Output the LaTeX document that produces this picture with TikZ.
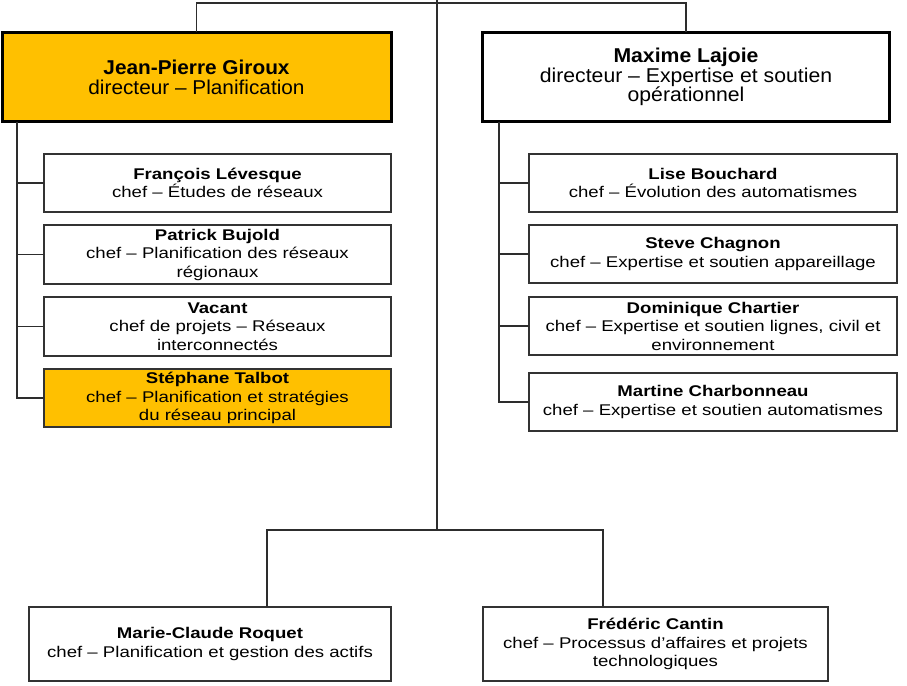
\documentclass[tikz,border=0pt]{standalone}
\usepackage{fontspec}
\setmainfont{Liberation Sans}
\newfontfamily\fJP{Liberation Sans}[FakeStretch=1.04]
\newfontfamily\fML{Liberation Sans}[FakeStretch=1.06]
\newfontfamily\fSm{Liberation Sans}[FakeStretch=1.2]
\newfontfamily\fBt{Liberation Sans}[FakeStretch=1.2]
\usetikzlibrary{calc}
\definecolor{gold}{RGB}{255,192,0}
\definecolor{linegray}{RGB}{45,45,45}
\tikzset{
  dirbox/.style={draw=black, line width=3pt, inner sep=0pt, outer sep=0pt, align=center, text=black},
  subbox/.style={draw=black!80, line width=1.3pt, inner sep=0pt, outer sep=0pt, align=center,
    minimum height=58pt, font=\fSm\fontsize{15.5}{18.5}\selectfont},
  leftbox/.style={subbox, minimum width=347pt},
  rightbox/.style={subbox, minimum width=368pt},
  botbox/.style={subbox, minimum height=74pt, font=\fBt\fontsize{15.5}{18.5}\selectfont},
  link/.style={draw=linegray, line width=1.1pt},
}
\begin{document}
\begin{tikzpicture}[x=1pt,y=-1pt]
\useasboundingbox (0,0) rectangle (907,685);
% directors
\node[dirbox, fill=gold, minimum width=389pt, minimum height=89pt,
  font=\fJP\fontsize{20}{20}\selectfont] (JP) at (196.5,77)
  {\textbf{Jean-Pierre Giroux}\\directeur – Planification};
\node[dirbox, fill=white, minimum width=407pt, minimum height=89pt,
  font=\fML\fontsize{20}{19.5}\selectfont] (ML) at (686,77)
  {\textbf{Maxime Lajoie}\\directeur – Expertise et soutien\\opérationnel};
% left column
\node[leftbox] (FL) at (217.5,183) {\textbf{François Lévesque}\\chef – Études de réseaux};
\node[leftbox, minimum height=59pt] (PB) at (217.5,254.5) {\textbf{Patrick Bujold}\\chef – Planification des réseaux\\régionaux};
\node[leftbox, minimum height=59pt] (VA) at (217.5,326.5) {\textbf{Vacant}\\chef de projets – Réseaux\\interconnectés};
\node[leftbox, fill=gold] (ST) at (217.5,398) {\textbf{Stéphane Talbot}\\chef – Planification et stratégies\\du réseau principal};
% right column
\node[rightbox] (LB) at (713,183) {\textbf{Lise Bouchard}\\chef – Évolution des automatismes};
\node[rightbox] (SC) at (713,254) {\textbf{Steve Chagnon}\\chef – Expertise et soutien appareillage};
\node[rightbox] (DC) at (713,326) {\textbf{Dominique Chartier}\\chef – Expertise et soutien lignes, civil et\\environnement};
\node[rightbox] (MCh) at (713,402) {\textbf{Martine Charbonneau}\\chef – Expertise et soutien automatismes};
% bottom
\node[botbox, minimum width=362pt] (MR) at (210,644) {\textbf{Marie-Claude Roquet}\\chef – Planification et gestion des actifs};
\node[botbox, minimum width=345pt] (FC) at (655.5,644) {\textbf{Frédéric Cantin}\\chef – Processus d’affaires et projets\\technologiques};
% connectors
\coordinate (top) at (437,0);
\coordinate (hub) at (437,3);
\coordinate (split) at (437,530);
\draw[link] (top) -- (split);
\draw[link] (JP.north) |- (hub) -| (ML.north);
\draw[link] ([xshift=57pt]MR.north) |- (split) -| ([xshift=-52.5pt]FC.north);
\foreach \n in {FL,PB,VA,ST}{
  \draw[link] ([xshift=15pt]JP.south west) |- (\n.west);
}
\foreach \n in {LB,SC,DC,MCh}{
  \draw[link] ([xshift=16.5pt]ML.south west) |- (\n.west);
}
\end{tikzpicture}
\end{document}
